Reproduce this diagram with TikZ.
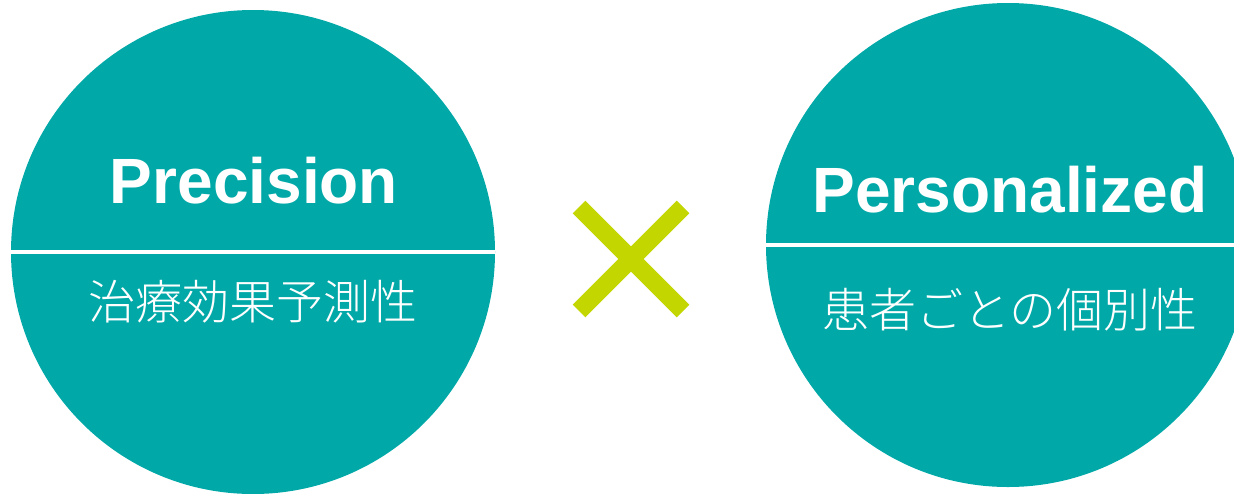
\documentclass[tikz,border=0pt]{standalone}
\usepackage{fontspec}
\setmainfont{Liberation Sans}
\newfontfamily\cjk{Noto Sans CJK JP}[UprightFont={* Light}]
\definecolor{teal1}{HTML}{00A9A8}
\definecolor{lime1}{HTML}{C3D600}
\begin{document}
\begin{tikzpicture}[x=1pt,y=-1pt,
  disc/.style={circle,fill=teal1,draw=none,minimum size=484pt,inner sep=0pt},
  divider/.style={white,line width=4pt},
  title/.style={text=white,font=\bfseries\fontsize{64}{70}\selectfont,anchor=base,inner sep=0pt},
  sub/.style={text=white,font=\cjk\fontsize{47}{52}\selectfont,anchor=center,inner sep=0pt},
  cross/.style={lime1,line width=18pt,line cap=butt}]
\useasboundingbox (0,0) rectangle (1234,493);
\clip (0,0) rectangle (1234,493);
\node[disc] (lc) at (253,252) {};
\node[disc] (rc) at (1008,245) {};
\draw[divider] (lc.west) -- (lc.east);
\draw[divider] (rc.west) -- (rc.east);
\node[title] (pt) at (254,203) {Precision};
\node[title] (rt) at (1010,212) {Personalized};
\node[sub] (ps) at (253,302) {治療効果予測性};
\node[sub] (rs) at (1010,310) {患者ごとの個別性};
\coordinate (x1) at (579,207);
\coordinate (x2) at (683,311);
\coordinate (x3) at (683,207);
\coordinate (x4) at (579,311);
\draw[cross] (x1) -- (x2);
\draw[cross] (x3) -- (x4);
\end{tikzpicture}
\end{document}
